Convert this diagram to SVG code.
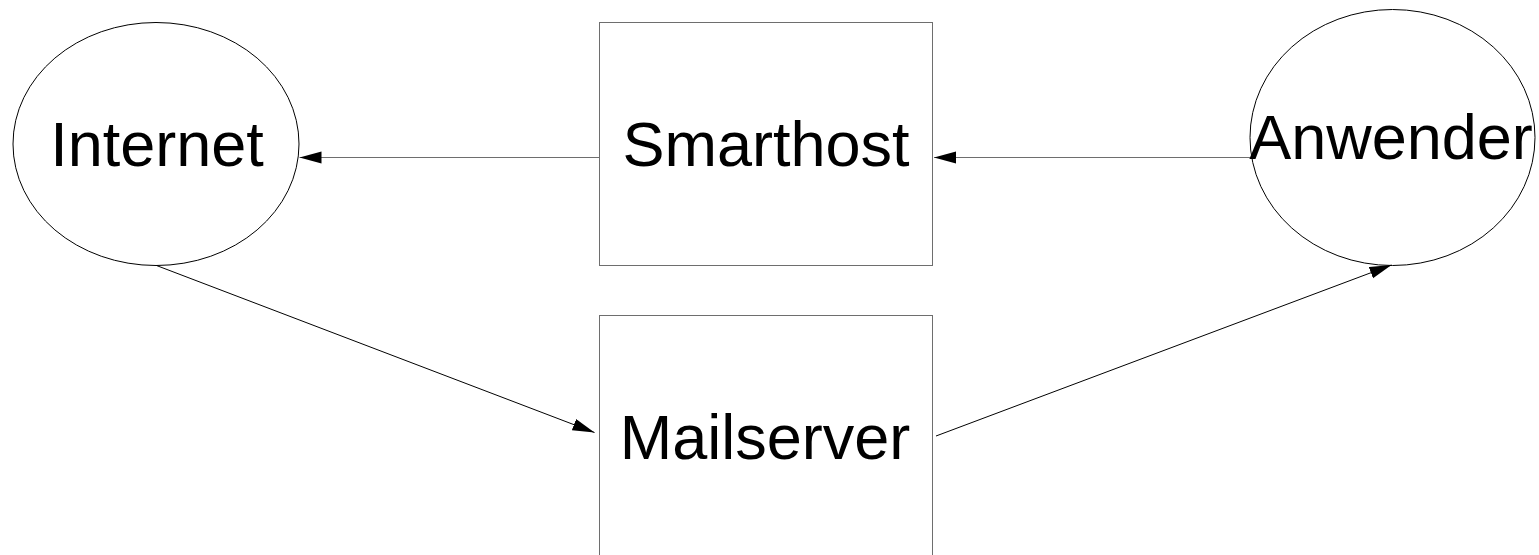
<svg xmlns="http://www.w3.org/2000/svg" width="1539" height="555" viewBox="0 0 1539 555">
  <style>
    .shape { fill: #ffffff; }
    .oval { stroke: #000000; stroke-width: 1; }
    .box { stroke: #6e6e6e; stroke-width: 1; }
    .label { font-family: "Liberation Sans", Arial, sans-serif; font-size: 63px; fill: #000000; text-anchor: middle; }
    .link { fill: none; stroke-width: 1; }
    .flat { stroke: #6e6e6e; }
    .slant { stroke: #000000; }
  </style>
  <defs>
    <marker id="head" markerUnits="userSpaceOnUse" markerWidth="23" markerHeight="13" refX="22" refY="6" orient="auto">
      <path d="M0,0 L22,6 L0,12 Z" fill="#000000"/>
    </marker>
  </defs>

  <rect width="1539" height="555" fill="#ffffff"/>

  <g id="internet">
    <ellipse class="shape oval" cx="156" cy="144" rx="143" ry="121.5"/>
    <text class="label" x="157" y="166">Internet</text>
  </g>

  <g id="smarthost">
    <rect class="shape box" x="599.5" y="22.5" width="333" height="243"/>
    <text class="label" x="766" y="166">Smarthost</text>
  </g>

  <g id="anwender">
    <ellipse class="shape oval" cx="1392.5" cy="137.5" rx="142.5" ry="128"/>
    <text class="label" x="1391" y="159">Anwender</text>
  </g>

  <g id="mailserver">
    <rect class="shape box" x="599.5" y="315.5" width="333" height="243"/>
    <text class="label" x="765" y="459">Mailserver</text>
  </g>

  <g id="connectors">
    <line class="link flat" x1="599.5" y1="157.5" x2="299.5" y2="157.5" marker-end="url(#head)"/>
    <line class="link flat" x1="1250" y1="157.5" x2="934" y2="157.5" marker-end="url(#head)"/>
    <line class="link slant" x1="156.5" y1="265.5" x2="594.5" y2="432.5" marker-end="url(#head)"/>
    <line class="link slant" x1="936" y1="436" x2="1391.5" y2="265" marker-end="url(#head)"/>
  </g>
</svg>
